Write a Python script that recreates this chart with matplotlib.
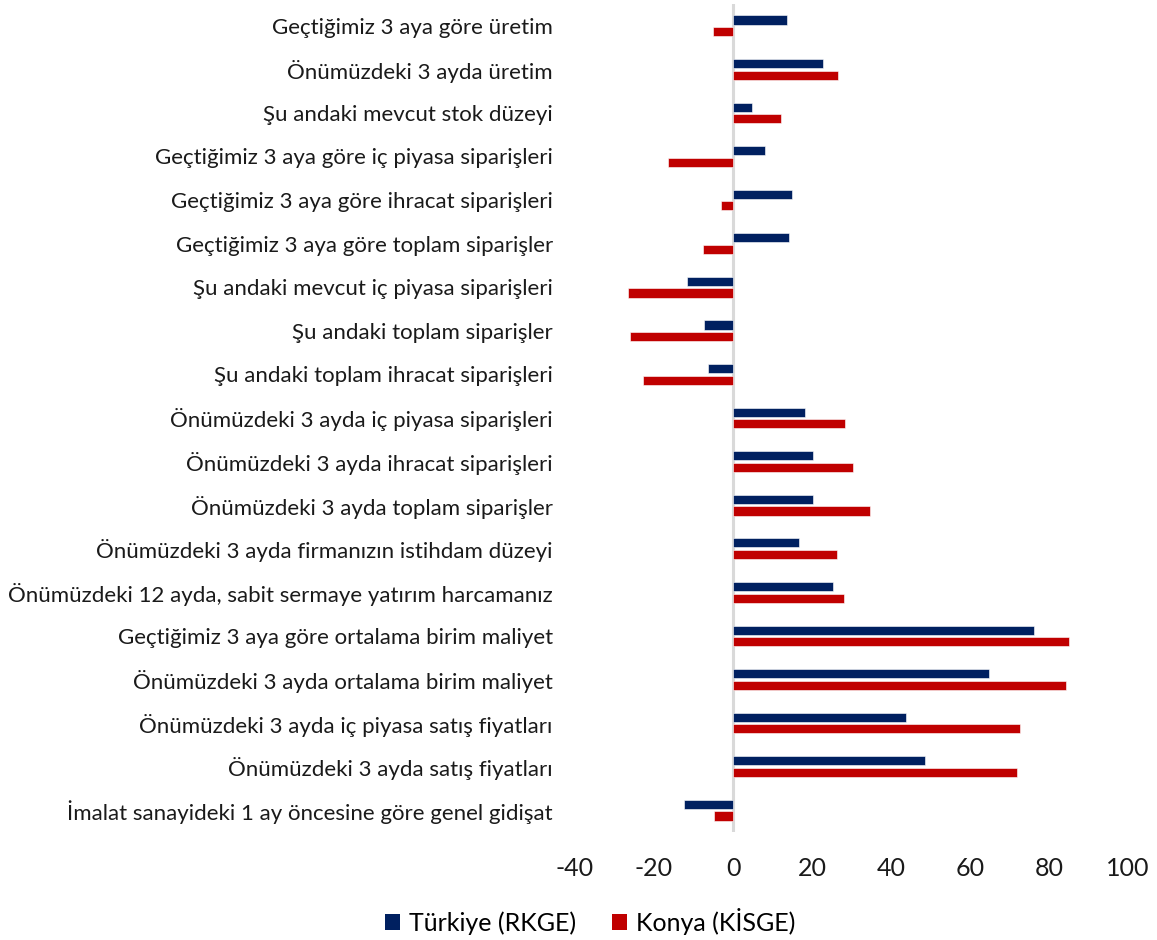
import matplotlib
matplotlib.use("Agg")
import matplotlib.pyplot as plt
import numpy as np
from matplotlib.patches import Patch

plt.rcParams['font.family'] = ['Lato', 'DejaVu Sans']

categories = [
    "Geçtiğimiz 3 aya göre üretim",
    "Önümüzdeki 3 ayda üretim",
    "Şu andaki mevcut stok düzeyi",
    "Geçtiğimiz 3 aya göre iç piyasa siparişleri",
    "Geçtiğimiz 3 aya göre ihracat siparişleri",
    "Geçtiğimiz 3 aya göre toplam siparişler",
    "Şu andaki mevcut iç piyasa siparişleri",
    "Şu andaki toplam siparişler",
    "Şu andaki toplam ihracat siparişleri",
    "Önümüzdeki 3 ayda iç piyasa siparişleri",
    "Önümüzdeki 3 ayda ihracat siparişleri",
    "Önümüzdeki 3 ayda toplam siparişler",
    "Önümüzdeki 3 ayda firmanızın istihdam düzeyi",
    "Önümüzdeki 12 ayda, sabit sermaye yatırım harcamanız",
    "Geçtiğimiz 3 aya göre ortalama birim maliyet",
    "Önümüzdeki 3 ayda ortalama birim maliyet",
    "Önümüzdeki 3 ayda iç piyasa satış fiyatları",
    "Önümüzdeki 3 ayda satış fiyatları",
    "İmalat sanayideki 1 ay öncesine göre genel gidişat",
]

turkiye = [13.7, 22.7, 4.8, 8.2, 15.0, 14.2, -11.7, -7.3, -6.3, 18.2,
           20.3, 20.2, 16.8, 25.4, 76.3, 64.8, 43.7, 48.5, -12.5]
konya = [-5.0, 26.6, 12.1, -16.5, -3.1, -7.7, -26.5, -26.0, -22.7, 28.3,
         30.3, 34.6, 26.3, 28.0, 85.0, 84.4, 72.7, 71.8, -4.7]

series_names = ["Türkiye (RKGE)", "Konya (KİSGE)"]
colors = ["#002060", "#C00000"]
x_ticks = [-40, -20, 0, 20, 40, 60, 80, 100]

fig = plt.figure(figsize=(11.57, 9.40), dpi=100)
ax = fig.add_axes([0.497, 0.1149, 0.478, 0.8809])

y = np.arange(len(categories))
h = 0.21
off = 0.133
ax.barh(y - off, turkiye, height=h, color=colors[0], edgecolor='white', linewidth=0.4)
ax.barh(y + off, konya, height=h, color=colors[1], edgecolor='white', linewidth=0.4)

ax.axvline(0, color='#D9D9D9', lw=2.2, zorder=0)

ax.set_xlim(-40, 100)
ax.set_ylim(len(categories) - 0.5, -0.5)
ax.set_xticks(x_ticks)
ax.set_xticklabels([str(t) for t in x_ticks], fontsize=18, color='#1a1a1a')
ax.set_yticks(y)
ax.set_yticklabels(categories, fontsize=16, color='#1a1a1a')
ax.tick_params(axis='both', length=0)
ax.tick_params(axis='y', pad=16)
ax.tick_params(axis='x', pad=18)
for s in ax.spines.values():
    s.set_visible(False)

handles = [Patch(facecolor=colors[0]), Patch(facecolor=colors[1])]
fig.legend(handles, series_names, loc='center', bbox_to_anchor=(0.51, 0.020),
           ncol=2, frameon=False, fontsize=18, handlelength=0.6, handleheight=0.6,
           handletextpad=0.35, columnspacing=1.45)

fig.savefig("out.png", dpi=100)
